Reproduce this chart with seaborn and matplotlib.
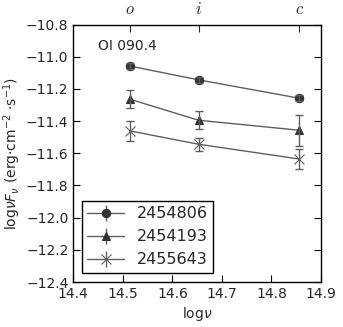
import matplotlib
matplotlib.use("Agg")
import matplotlib.pyplot as plt
import seaborn as sns
import numpy as np
import pandas as pd

bands = ["$o$", "$i$", "$c$"]
lognu = [14.514, 14.653, 14.856]
labels = ["2454806", "2454193", "2455643"]
markers = ["o", "^", "x"]
flux_2454806 = [-11.058, -11.144, -11.258]
err_2454806 = [0.02, 0.02, 0.02]
flux_2454193 = [-11.264, -11.395, -11.457]
err_2454193 = [0.056, 0.056, 0.096]
flux_2455643 = [-11.461, -11.544, -11.636]
err_2455643 = [0.062, 0.04, 0.063]

fluxes = [flux_2454806, flux_2454193, flux_2455643]
errs = [err_2454806, err_2454193, err_2455643]

sns.set_style("ticks", {"xtick.direction": "in", "ytick.direction": "in",
                        "axes.edgecolor": "black"})
plt.rcParams["font.family"] = ["DejaVu Sans"]
plt.rcParams["mathtext.fontset"] = "dejavusans"

fig = plt.figure(figsize=(3.43, 3.27), dpi=100)
ax = fig.add_axes([73.3 / 343, 1 - 282 / 327, (321 - 73.3) / 343, (282 - 24.5) / 327])

line_c = "#5f5f5f"
mark_c = "#333333"
handles = []
for lab, mk, f, e in zip(labels, markers, fluxes, errs):
    df = pd.DataFrame({"x": lognu, "y": f})
    ms = 6 if mk != "x" else 6.5
    sns.lineplot(data=df, x="x", y="y", ax=ax, color=line_c, lw=1.0,
                 marker=mk, markersize=ms, markerfacecolor=mark_c,
                 markeredgecolor=mark_c if mk != "x" else line_c,
                 markeredgewidth=0.8, legend=False)
    ax.errorbar(lognu, f, yerr=e, fmt="none", ecolor=line_c, elinewidth=1.0,
                capsize=3, capthick=1.0)
    h = ax.errorbar([], [], yerr=[], fmt=mk + "-", color=line_c, lw=1.0,
                    ecolor=line_c, capsize=3, markersize=ms,
                    markerfacecolor=mark_c, markeredgewidth=0.8,
                    markeredgecolor=mark_c if mk != "x" else line_c,
                    label=lab)
    handles.append(h)

ax.set_xlim(14.4, 14.9)
ax.set_ylim(-12.4, -10.8)
ax.set_xticks(np.arange(14.4, 14.91, 0.1))
ax.set_yticks(np.arange(-12.4, -10.79, 0.2))
ax.set_xticklabels(["14.4", "14.5", "14.6", "14.7", "14.8", "14.9"])
ax.set_yticklabels(["\u221212.4", "\u221212.2", "\u221212.0", "\u221211.8",
                    "\u221211.6", "\u221211.4", "\u221211.2", "\u221211.0", "\u221210.8"])
ax.tick_params(axis="both", labelsize=10, length=5, width=0.8, right=True,
               color="black")
for s in ax.spines.values():
    s.set_linewidth(1.0)
    s.set_color("black")

ax.set_xlabel(r"$\mathrm{log}\nu$", fontsize=10, labelpad=3)
ax.set_ylabel(r"$\mathrm{log}\nu F_\nu$ (erg$\cdot$cm$^{-2}$ $\cdot$s$^{-1}$)",
              fontsize=10, labelpad=2)

top = ax.twiny()
top.set_xlim(ax.get_xlim())
top.set_xticks(lognu)
top.set_xticklabels(bands, fontsize=12)
for t in top.get_xticklabels():
    t.set_math_fontfamily("cm")
top.tick_params(axis="x", direction="in", length=5, width=0.8, pad=5)
for s in top.spines.values():
    s.set_visible(False)

ax.text(14.45, -10.934, "OI 090.4", fontsize=10, va="center", ha="left")

leg = ax.legend(handles=handles, labels=labels, loc="lower left",
                fontsize=11.5, frameon=True, fancybox=False, edgecolor="black",
                framealpha=1, borderpad=0.35, handlelength=2.3,
                borderaxespad=0, bbox_to_anchor=(0.034, 0.035))
leg.get_frame().set_linewidth(1.0)

fig.savefig("out.png", dpi=100)
